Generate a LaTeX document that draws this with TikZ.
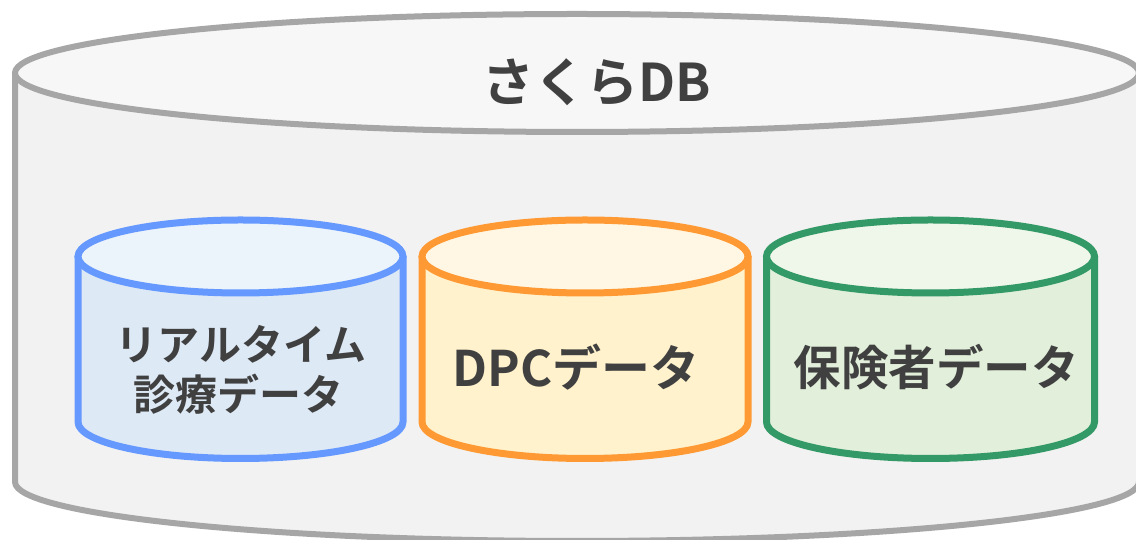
\documentclass[tikz,border=0pt]{standalone}
\usepackage{fontspec}
\newfontfamily\jp{Noto Sans CJK JP Bold}
\definecolor{bigstroke}{HTML}{A6A6A6}
\definecolor{bigbody}{HTML}{F2F2F2}
\definecolor{bigtop}{HTML}{F7F7F7}
\definecolor{bluestroke}{HTML}{6699FF}
\definecolor{bluebody}{HTML}{DEE9F6}
\definecolor{bluetop}{HTML}{EBF3FB}
\definecolor{orstroke}{HTML}{FF9933}
\definecolor{orbody}{HTML}{FFF2CC}
\definecolor{ortop}{HTML}{FFF7E3}
\definecolor{grstroke}{HTML}{339966}
\definecolor{grbody}{HTML}{E2EFDA}
\definecolor{grtop}{HTML}{EFF6EA}
\definecolor{txt}{HTML}{404040}
% cx, ytop, ybot, rx, ry, stroke, body, top, width
\newcommand{\mycyl}[9]{%
  \filldraw[draw=#6, fill=#7, line width=#9, line join=round]
    ({#1-#4},#2) -- ({#1-#4},#3)
    arc[start angle=180, end angle=360, x radius=#4, y radius=#5]
    -- ({#1+#4},#2) -- cycle;
  \filldraw[draw=#6, fill=#8, line width=#9] (#1,#2) ellipse[x radius=#4, y radius=#5];
}
\tikzset{lbl/.style={text=txt, inner sep=0pt, anchor=base}}
\begin{document}
\begin{tikzpicture}[x=1pt, y=1pt]
\useasboundingbox (0,0) rectangle (1136,540);
\clip (0,0) rectangle (1136,540);
\fill[white] (0,0) rectangle (1136,540);
\mycyl{577}{467}{58}{562}{59}{bigstroke}{bigbody}{bigtop}{6pt}
\mycyl{240.5}{283.5}{118}{162.5}{36.5}{bluestroke}{bluebody}{bluetop}{7pt}
\mycyl{585}{283.5}{118}{163}{36.5}{orstroke}{orbody}{ortop}{7pt}
\mycyl{930.5}{283.5}{118}{164}{36.5}{grstroke}{grbody}{grtop}{7pt}
\node[lbl, font=\jp\fontsize{52pt}{60pt}\selectfont] (title) at (597,438) {さくらDB};
\node[lbl, font=\jp\fontsize{42pt}{50pt}\selectfont] (rt1) at (241,179) {リアルタイム};
\node[lbl, font=\jp\fontsize{42pt}{50pt}\selectfont] (rt2) at (238,129) {診療データ};
\node[lbl, font=\jp\fontsize{49pt}{56pt}\selectfont] (dpc) at (576,153) {DPCデータ};
\node[lbl, font=\jp\fontsize{47.5pt}{56pt}\selectfont] (hok) at (936,154) {保険者データ};
\end{tikzpicture}
\end{document}
